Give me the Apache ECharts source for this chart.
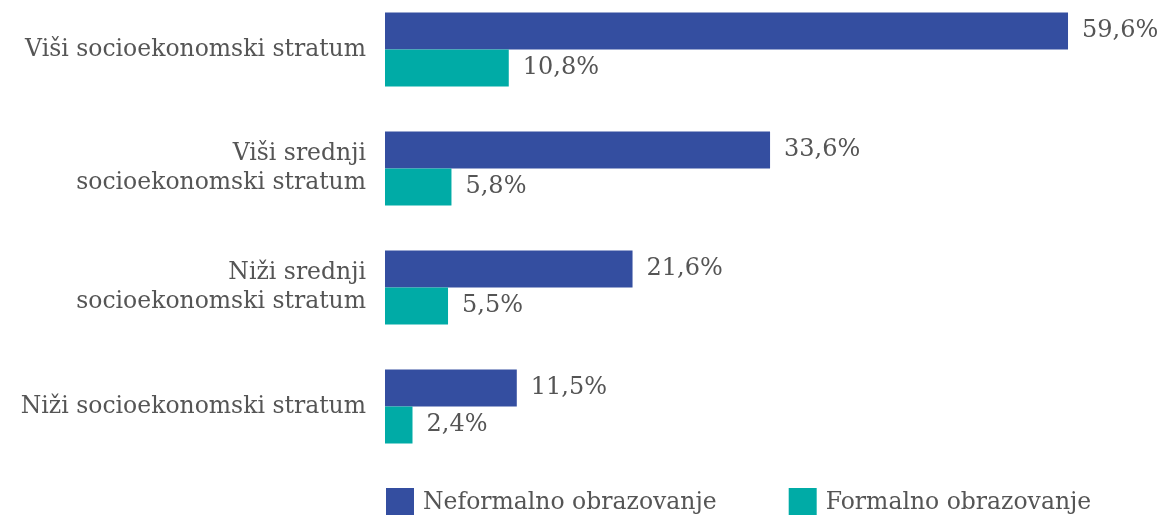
<!DOCTYPE html>
<html>
<head>
<meta charset="utf-8">
<script src="https://cdn.jsdelivr.net/npm/echarts@6/dist/echarts.min.js"></script>
<style>
  html, body { margin: 0; padding: 0; background: #fff; overflow: hidden; }
  #main { width: 1162px; height: 525px; margin-top: -10px; }
</style>
</head>
<body>
<div id="main"></div>
<script>
const categories = [
  'Viši socioekonomski stratum',
  'Viši srednji\nsocioekonomski stratum',
  'Niži srednji\nsocioekonomski stratum',
  'Niži socioekonomski stratum'
]
const neformalno = [59.6, 33.6, 21.6, 11.5]
const formalno = [10.8, 5.8, 5.5, 2.4]
const seriesNames = ['Neformalno obrazovanje', 'Formalno obrazovanje']

const fontFamily = 'DejaVu Serif'
const textColor = '#555555'

const fmt = (p) => p.value.toFixed(1).replace('.', ',') + '%'

const chart = echarts.init(document.getElementById('main'))
const option = {
  animation: false,
  textStyle: { fontFamily: fontFamily },
  legend: {
    data: seriesNames,
    left: 381,
    top: 493,
    itemWidth: 28,
    itemHeight: 30,
    itemGap: 72,
    icon: 'rect',
    textStyle: { fontSize: 23.5, color: textColor, fontFamily: fontFamily, padding: [4, 0, 0, 4] }
  },
  grid: {
    left: 385,
    top: 0,
    width: 687.6,
    height: 476
  },
  xAxis: {
    type: 'value',
    min: 0,
    max: 60,
    show: false
  },
  yAxis: {
    type: 'category',
    data: categories,
    inverse: true,
    axisLine: { show: false },
    axisTick: { show: false },
    axisLabel: {
      margin: 19,
      fontSize: 23.5,
      lineHeight: 29,
      color: textColor,
      fontFamily: fontFamily
    }
  },
  series: [
    {
      name: seriesNames[0],
      type: 'bar',
      data: neformalno,
      barWidth: 37,
      barGap: 0,
      itemStyle: { color: '#344ea0' },
      label: {
        show: true,
        position: 'right',
        distance: 14,
        fontSize: 24,
        color: textColor,
        fontFamily: fontFamily,
        formatter: fmt
      }
    },
    {
      name: seriesNames[1],
      type: 'bar',
      data: formalno,
      barWidth: 37,
      barGap: 0,
      itemStyle: { color: '#00aba6' },
      label: {
        show: true,
        position: 'right',
        distance: 14,
        fontSize: 24,
        color: textColor,
        fontFamily: fontFamily,
        formatter: fmt
      }
    }
  ]
}
chart.setOption(option)
</script>
</body>
</html>
